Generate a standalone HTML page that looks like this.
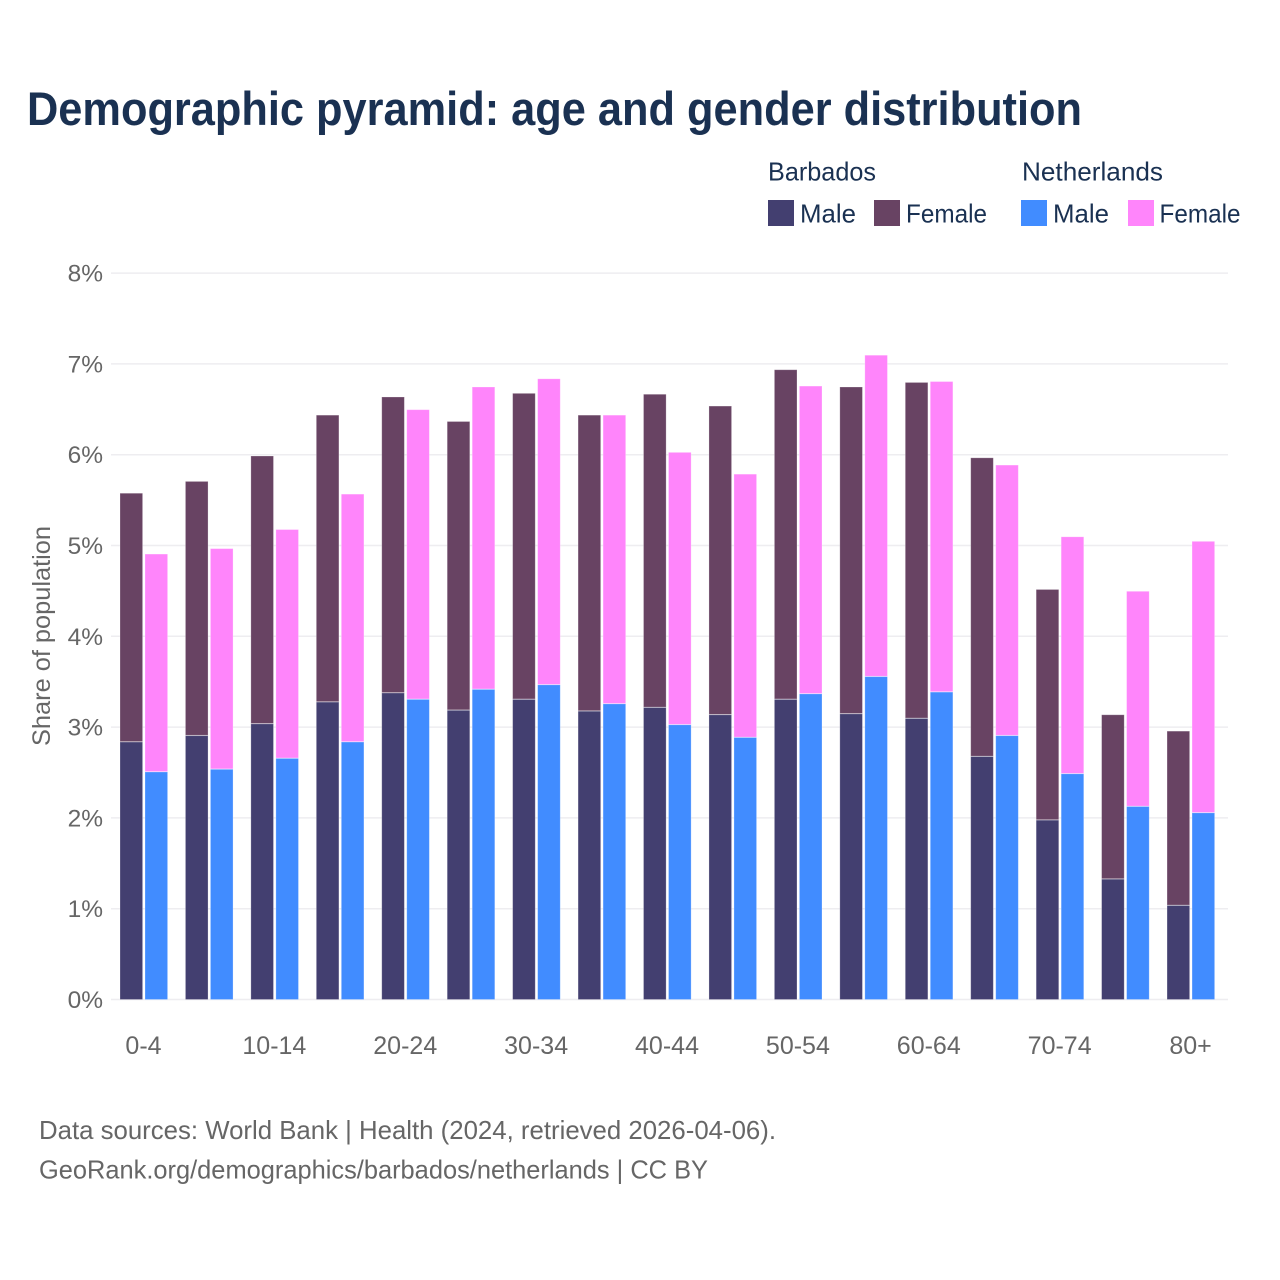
<!DOCTYPE html>
<html lang="en">
<head>
<meta charset="utf-8">
<title>Demographic pyramid</title>
<style>
html,body{margin:0;padding:0;background:#fff;}
svg{display:block;font-family:"Liberation Sans",sans-serif;}
</style>
</head>
<body>
<svg id="chart" xmlns="http://www.w3.org/2000/svg" width="1280" height="1280" viewBox="0 0 1280 1280">
  <rect width="1280" height="1280" fill="#fff"/>
  <text x="27" y="125" font-size="47" font-weight="700" fill="#1a3152" textLength="1055" lengthAdjust="spacingAndGlyphs">Demographic pyramid: age and gender distribution</text>

  <g font-size="26" fill="#1a3152">
    <text x="768" y="180.5" textLength="108" lengthAdjust="spacingAndGlyphs">Barbados</text>
    <text x="1022" y="180.5" textLength="141" lengthAdjust="spacingAndGlyphs">Netherlands</text>
    <rect x="768" y="200" width="26" height="26" fill="#433f70"/>
    <text x="800" y="222.5" textLength="56" lengthAdjust="spacingAndGlyphs">Male</text>
    <rect x="874" y="200" width="26" height="26" fill="#684363"/>
    <text x="906" y="222.5" textLength="81" lengthAdjust="spacingAndGlyphs">Female</text>
    <rect x="1021" y="200" width="26" height="26" fill="#418cff"/>
    <text x="1053" y="222.5" textLength="56" lengthAdjust="spacingAndGlyphs">Male</text>
    <rect x="1128" y="200" width="26" height="26" fill="#ff85fb"/>
    <text x="1159.5" y="222.5" textLength="81" lengthAdjust="spacingAndGlyphs">Female</text>
  </g>

  <g id="grid"></g>
  <g id="yticks"></g>
  <g id="bars"></g>
  <g id="xticks"></g>

  <text transform="translate(50,636) rotate(-90)" text-anchor="middle" font-size="25" fill="#666666" textLength="220" lengthAdjust="spacingAndGlyphs">Share of population</text>

  <text x="39" y="1139" font-size="26" fill="#666666" textLength="737" lengthAdjust="spacingAndGlyphs">Data sources: World Bank | Health (2024, retrieved 2026-04-06).</text>
  <text x="39" y="1178.5" font-size="26" fill="#666666" textLength="669" lengthAdjust="spacingAndGlyphs">GeoRank.org/demographics/barbados/netherlands | CC BY</text>
</svg>
<script>
const categories = ['0-4','5-9','10-14','15-19','20-24','25-29','30-34','35-39','40-44','45-49','50-54','55-59','60-64','65-69','70-74','75-79','80+'];
const tickLabels = ['0-4','10-14','20-24','30-34','40-44','50-54','60-64','70-74','80+'];
const yTicks = [0,1,2,3,4,5,6,7,8];
const barbadosMale = [2.84,2.91,3.04,3.28,3.38,3.19,3.31,3.18,3.22,3.14,3.31,3.15,3.10,2.68,1.98,1.33,1.04];
const barbadosFemale = [2.74,2.80,2.95,3.16,3.26,3.18,3.37,3.26,3.45,3.40,3.63,3.60,3.70,3.29,2.54,1.81,1.92];
const netherlandsMale = [2.51,2.54,2.66,2.84,3.31,3.42,3.47,3.26,3.03,2.89,3.37,3.56,3.39,2.91,2.49,2.13,2.06];
const netherlandsFemale = [2.40,2.43,2.52,2.73,3.19,3.33,3.37,3.18,3.00,2.90,3.39,3.54,3.42,2.98,2.61,2.37,2.99];

const NS = 'http://www.w3.org/2000/svg';
const yScale = v => 999.5 - v * 90.8;
const xScale = i => 120 + i * 65.44;
const barWidth = 22.6;
const countryOffset = 25;

function makeSvg(tag, attrs, parent) {
  const el = document.createElementNS(NS, tag);
  for (const k in attrs) el.setAttribute(k, attrs[k]);
  parent.appendChild(el);
  return el;
}

const grid = document.getElementById('grid');
const yticks = document.getElementById('yticks');
yTicks.forEach(t => {
  const line = makeSvg('line', {x1: 111, x2: 1228, y1: yScale(t), y2: yScale(t), stroke: '#eeedf0', 'stroke-width': 1.5}, grid);
  
  
  const label = makeSvg('text', {x: 103, y: yScale(t) + 8.5, 'text-anchor': 'end', 'font-size': 24.5, fill: '#666666'}, yticks);
  label.textContent = t + '%';
  
  
});

const bars = document.getElementById('bars');
function drawBar(i, offset, base, value, color, name) {
  const top = yScale(base + value) + 0.4;
  const rect = makeSvg('rect', {
    x: xScale(i) + offset, y: top, width: barWidth, height: yScale(base) - top,
    fill: color, stroke: '#ffffff', 'stroke-opacity': 0.3, 'stroke-width': 0.8
  }, bars);
  
  
}
categories.forEach((c, i) => {
  drawBar(i, 0, 0, barbadosMale[i], '#433f70', 'bar-barbados-male-' + c);
  drawBar(i, 0, barbadosMale[i], barbadosFemale[i], '#684363', 'bar-barbados-female-' + c);
  drawBar(i, countryOffset, 0, netherlandsMale[i], '#418cff', 'bar-netherlands-male-' + c);
  drawBar(i, countryOffset, netherlandsMale[i], netherlandsFemale[i], '#ff85fb', 'bar-netherlands-female-' + c);
});

const xticks = document.getElementById('xticks');
categories.forEach((c, i) => {
  if (!tickLabels.includes(c)) return;
  const label = makeSvg('text', {x: xScale(i) + 23.5, y: 1054, 'text-anchor': 'middle', 'font-size': 25, fill: '#666666'}, xticks);
  label.textContent = c;
  
  
});
</script>
</body>
</html>
